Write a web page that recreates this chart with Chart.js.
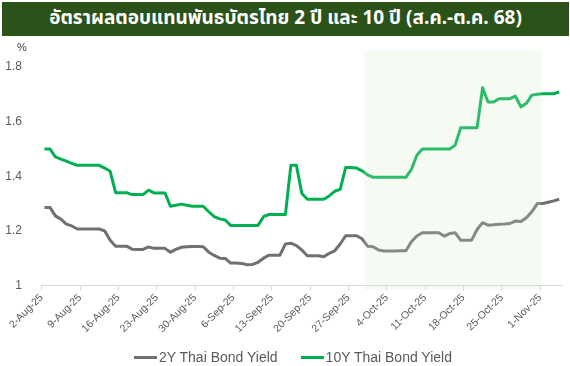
<!DOCTYPE html>
<html>
<head>
<meta charset="utf-8">
<script src="https://cdn.jsdelivr.net/npm/chart.js@4"></script>
<style>
  html, body { margin: 0; padding: 0; background: #fff; }
  #wrap { position: relative; width: 570px; height: 366px; overflow: hidden; }
  #title {
    position: absolute; left: 2px; top: 2px; width: 567px; height: 34px;
    background: #2a5219; color: #fff; font: bold 19px "Noto Sans Thai", "Noto Sans", "DejaVu Sans", sans-serif;
    line-height: 34px; text-align: center; white-space: nowrap;
  }
  #unit { position: absolute; left: 17px; top: 41px; font: 11px "Liberation Sans", sans-serif; color: #404040; }
  canvas { position: absolute; left: 0; top: 0; }
  #legend {
    position: absolute; left: 8px; top: 347px; width: 570px; height: 20px;
    display: flex; justify-content: center; align-items: center; gap: 23px;
    font: 14px "Liberation Sans", sans-serif; color: #595959;
  }
  #legend span.item { display: flex; align-items: center; white-space: nowrap; }
  #legend span.mark { display: inline-block; width: 23px; height: 3px; margin-right: 2px; }
</style>
</head>
<body>
<div id="wrap">
  <canvas id="c" width="570" height="366"></canvas>
  <div id="title">อัตราผลตอบแทนพันธบัตรไทย 2 ปี และ 10 ปี (ส.ค.-ต.ค. 68)</div>
  <div id="unit">%</div>
  <div id="legend"></div>
</div>
<script>
// วันที่ 2-Aug-25 ถึง 4-Nov-25 (รายวัน)
const tickLabels = ['2-Aug-25', '9-Aug-25', '16-Aug-25', '23-Aug-25', '30-Aug-25', '6-Sep-25', '13-Sep-25',
    '20-Sep-25', '27-Sep-25', '4-Oct-25', '11-Oct-25', '18-Oct-25', '25-Oct-25', '1-Nov-25'];
const yTicks = [1, 1.2, 1.4, 1.6, 1.8];

const yield2y = [
    1.286, 1.286, 1.255, 1.243, 1.225, 1.218, 1.207, 1.207, 1.207, 1.207,
    1.207, 1.200, 1.166, 1.144, 1.144, 1.144, 1.133, 1.132, 1.132, 1.141,
    1.136, 1.136, 1.136, 1.122, 1.132, 1.140, 1.142, 1.143, 1.143, 1.142,
    1.122, 1.110, 1.100, 1.099, 1.082, 1.082, 1.081, 1.076, 1.077, 1.085,
    1.100, 1.111, 1.111, 1.111, 1.152, 1.155, 1.146, 1.130, 1.109, 1.109,
    1.109, 1.105, 1.118, 1.127, 1.152, 1.182, 1.182, 1.182, 1.171, 1.144,
    1.142, 1.130, 1.126, 1.126, 1.126, 1.127, 1.127, 1.160, 1.181, 1.193,
    1.193, 1.193, 1.193, 1.181, 1.190, 1.193, 1.166, 1.166, 1.166, 1.205,
    1.230, 1.221, 1.222, 1.224, 1.225, 1.227, 1.236, 1.234, 1.248, 1.270,
    1.300, 1.300, 1.305, 1.310, 1.316
];
const yield10y = [
    1.500, 1.500, 1.471, 1.463, 1.455, 1.447, 1.440, 1.440, 1.440, 1.440,
    1.440, 1.430, 1.418, 1.340, 1.340, 1.340, 1.333, 1.333, 1.333, 1.349,
    1.339, 1.339, 1.339, 1.290, 1.294, 1.298, 1.294, 1.290, 1.290, 1.290,
    1.270, 1.252, 1.244, 1.240, 1.220, 1.220, 1.220, 1.220, 1.220, 1.220,
    1.252, 1.260, 1.260, 1.260, 1.260, 1.440, 1.440, 1.337, 1.316, 1.316,
    1.316, 1.316, 1.328, 1.345, 1.352, 1.432, 1.432, 1.430, 1.420, 1.405,
    1.396, 1.396, 1.396, 1.396, 1.396, 1.396, 1.396, 1.425, 1.477, 1.500,
    1.500, 1.500, 1.500, 1.500, 1.500, 1.514, 1.578, 1.578, 1.578, 1.578,
    1.724, 1.672, 1.672, 1.684, 1.684, 1.684, 1.693, 1.654, 1.667, 1.697,
    1.700, 1.702, 1.702, 1.702, 1.709
];
// ช่วงที่ไฮไลต์ (วันนับจาก 2-Aug)
const highlightFrom = 58.8;
const highlightTo = 91.2;

const toPoints = arr => arr.map((v, i) => ({ x: i + 0.5, y: v }));

const highlightBox = {
    id: 'highlightBox',
    afterDatasetsDraw(chart) {
        const { ctx, scales: { x, y }, chartArea } = chart;
        const x1 = x.getPixelForValue(highlightFrom);
        const x2 = x.getPixelForValue(highlightTo);
        ctx.save();
        ctx.fillStyle = 'rgba(210,234,200,0.22)';
        ctx.fillRect(x1, chartArea.top - 16, x2 - x1, chartArea.bottom - chartArea.top + 20);
        ctx.restore();
    }
};

const chart = new Chart(document.getElementById('c'), {
    type: 'line',
    data: {
        datasets: [
            { label: '2Y Thai Bond Yield', data: toPoints(yield2y), borderColor: '#707070', backgroundColor: '#707070',
              borderWidth: 3, pointRadius: 0, tension: 0, borderJoinStyle: 'round' },
            { label: '10Y Thai Bond Yield', data: toPoints(yield10y), borderColor: '#00b050', backgroundColor: '#00b050',
              borderWidth: 3, pointRadius: 0, tension: 0, borderJoinStyle: 'round' }
        ]
    },
    options: {
        responsive: false,
        animation: false,
        layout: { padding: { left: 0, right: 8, top: 67, bottom: 30.5 } },
        plugins: {
            tooltip: { enabled: false },
            legend: { display: false }
        },
        scales: {
            x: {
                type: 'linear', min: 0, max: 95,
                afterBuildTicks: s => { s.ticks = tickLabels.map((_, i) => ({ value: i * 7 })); },
                afterFit: s => { s.height = 50; },
                grid: { display: true, drawOnChartArea: false, drawTicks: true, tickLength: 5, color: '#d9d9d9' },
                border: { color: '#d9d9d9' },
                ticks: {
                    autoSkip: false, minRotation: 45, maxRotation: 45, padding: 1, color: '#595959',
                    font: { family: '"Liberation Sans Narrow", "Liberation Sans", sans-serif', size: 10.5 },
                    callback: v => tickLabels[Math.round(v / 7)]
                }
            },
            y: {
                min: 1, max: 1.8,
                afterBuildTicks: s => { s.ticks = yTicks.map(v => ({ value: v })); },
                afterFit: s => { s.width = 41.7; },
                grid: { display: false },
                border: { display: false },
                ticks: {
                    padding: 11.7, color: '#595959',
                    font: { family: '"Liberation Sans", sans-serif', size: 12 },
                    callback: v => String(v)
                }
            }
        }
    },
    plugins: [highlightBox]
});

// legend แบบ HTML
const legendEl = document.getElementById('legend');
chart.data.datasets.forEach(ds => {
    const item = document.createElement('span');
    item.className = 'item';
    item.innerHTML = '<span class="mark" style="background:' + ds.borderColor + '"></span>' + ds.label;
    legendEl.appendChild(item);
});
</script>
</body>
</html>
